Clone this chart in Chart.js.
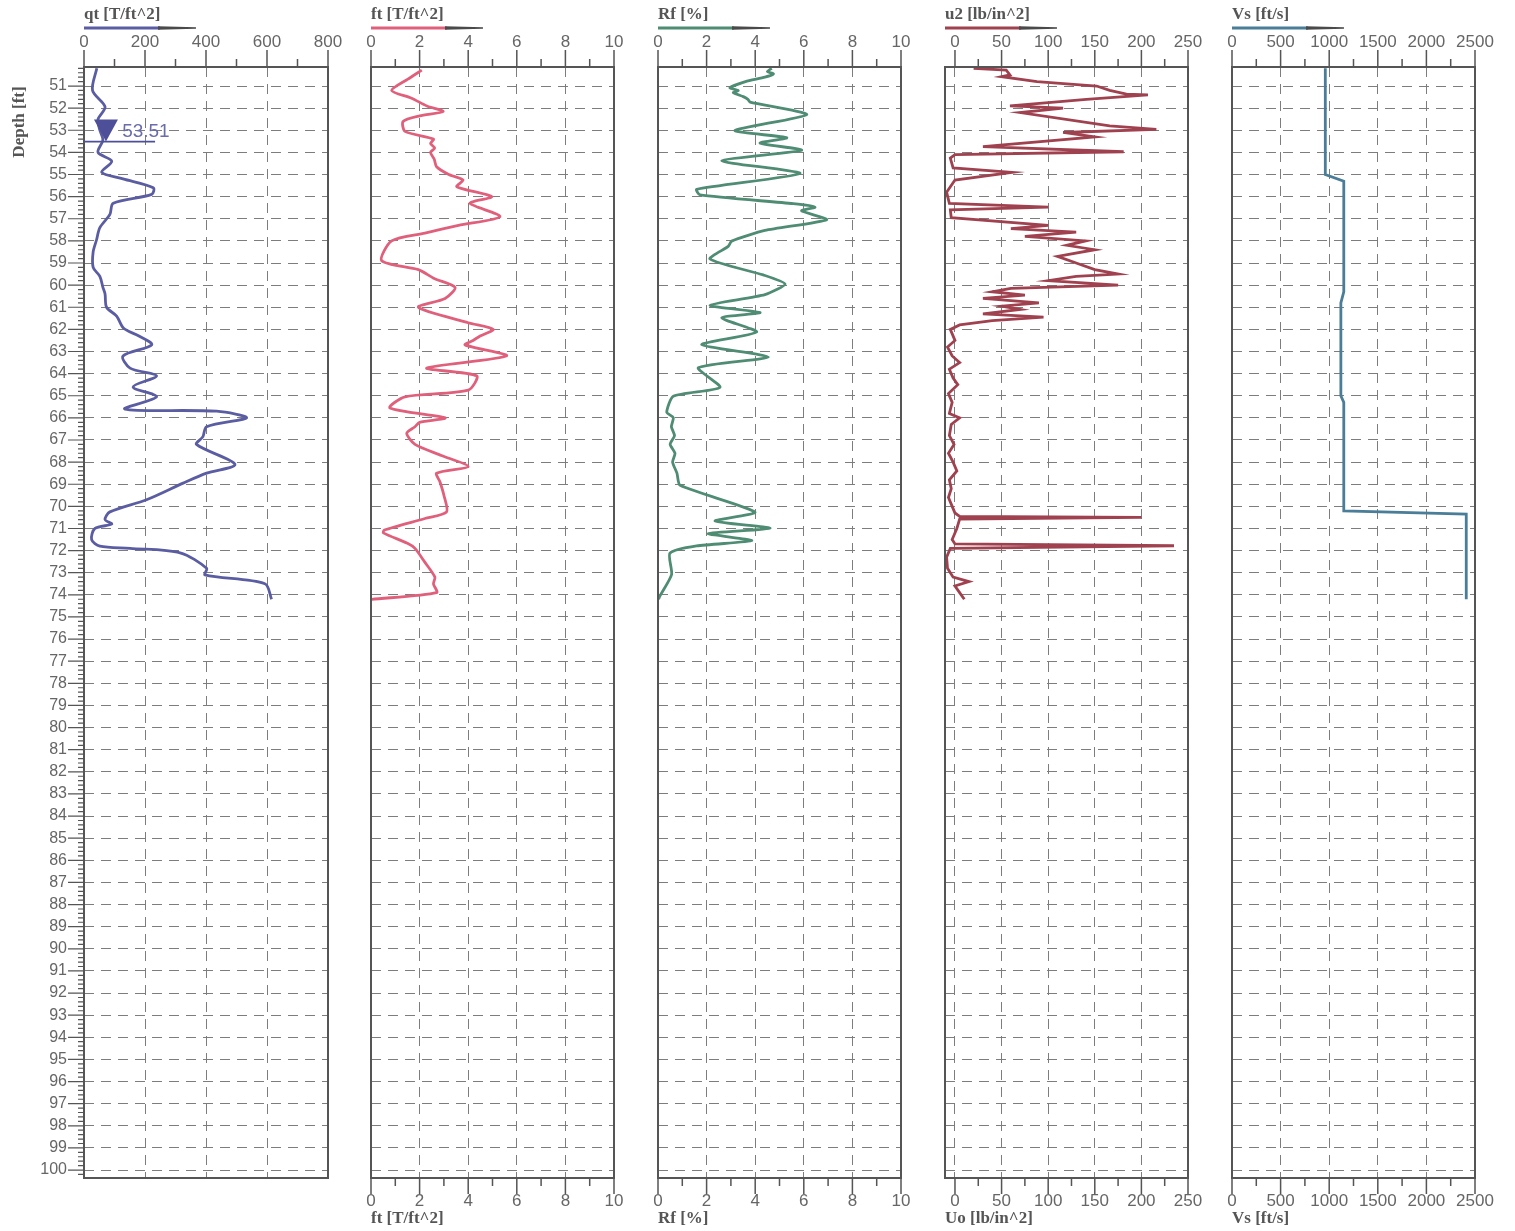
<!DOCTYPE html>
<html><head><meta charset="utf-8">
<script src="https://cdn.jsdelivr.net/npm/chart.js@4.4.1/dist/chart.umd.min.js"></script>
<style>
html,body{margin:0;padding:0;background:#fff;}
#wrap{position:relative;width:1515px;height:1231px;overflow:hidden;}
#wrap canvas{position:absolute;left:0;top:0;}
</style></head><body><div id="wrap"></div>
<script>
// ---------- data ----------
const depthMin = 50.14, depthMax = 100.36;
const depthTicks = [];
for (let d = 51; d <= 100; d++) depthTicks.push(d);
const depthLabels = depthTicks.map(String);
const waterDepth = 53.51;
const waterLabel = '53.51';

const qtDepth  = [50.2,51.2,51.94,52.5,53.0,53.44,54.0,54.4,54.9,55.2,55.6,55.9,56.3,56.8,57.4,57.96,58.5,59.2,59.6,60.1,60.4,61.0,61.4,61.95,62.3,62.7,63.2,63.75,64.1,64.6,65.05,65.6,65.7,66.0,66.4,66.85,67.2,68.1,68.5,68.95,69.7,70.25,70.6,70.8,71.0,71.5,71.8,71.9,72.1,72.8,73.1,73.5,74.2];
const qtValues = [42,28,69,46,52,62,46,91,58,128,227,222,96,85,52,41,30,30,52,62,69,74,107,130,180,222,128,151,238,161,238,134,435,533,402,390,369,495,402,325,205,85,69,91,36,25,52,151,315,402,397,593,615];

const ftDepth  = [50.28,50.7,51.2,51.55,51.9,52.15,52.35,52.6,53.05,53.4,53.6,53.8,54.0,54.3,54.65,55.0,55.25,55.55,56.0,56.3,56.9,57.3,57.65,58.0,58.9,59.3,59.7,60.1,60.6,61.0,61.7,62.0,62.3,62.5,62.7,63.2,63.75,64.1,64.75,65.05,65.55,66.0,66.2,66.4,66.7,67.2,67.7,68.2,68.5,68.9,69.5,70.25,70.55,71.07,71.2,71.67,71.9,72.5,73.2,73.5,73.9,74.2];
const ftValues = [2.09,1.5,0.85,1.67,2.3,2.97,2.0,1.32,1.40,2.57,2.45,2.62,2.45,2.6,2.70,3.2,3.79,3.53,4.97,4.07,5.31,3.6,2.22,0.85,0.44,1.95,2.6,3.46,3.05,1.95,4.0,5.03,4.49,4.2,3.87,5.58,2.29,4.35,4.0,1.40,0.78,3.05,2.0,1.81,1.47,1.81,2.9,4.0,2.70,2.84,3.0,3.11,2.22,0.55,0.51,1.5,1.81,2.2,2.63,2.57,2.70,0.03];

const rfDepth  = [50.2,50.35,50.45,50.6,50.8,51.08,51.2,51.3,51.48,51.6,51.73,52.29,53.01,53.34,53.58,53.9,54.38,54.95,55.67,55.92,56.32,56.48,56.64,57.04,57.53,58.01,58.25,58.82,59.54,59.95,60.43,60.91,61.24,61.48,62.12,62.69,63.25,63.73,64.62,65.02,65.75,65.99,66.4,66.8,67.2,67.6,68.0,68.5,69.05,70.26,70.66,70.99,71.23,71.55,71.79,72.12,73.08,74.05,74.2];
const rfValues = [4.68,4.5,4.75,4.40,3.6,2.96,3.3,3.1,3.51,3.7,3.79,6.12,3.17,5.30,4.20,5.91,2.62,5.84,1.59,1.73,5.57,6.46,5.91,6.94,4.40,3.03,2.89,2.14,4.33,5.23,4.40,2.14,4.20,2.62,4.06,1.80,4.54,1.66,2.55,0.63,0.36,0.63,0.55,0.68,0.5,0.70,0.6,0.78,0.91,3.99,2.35,4.61,2.07,3.86,1.59,0.49,0.56,0.08,0.02];

const u2Depth  = [50.2,50.28,50.5,50.58,50.8,51.0,51.2,51.37,51.4,51.6,51.9,52.0,52.2,52.8,52.96,53.1,53.3,53.74,53.97,54.1,54.26,54.7,54.9,55.25,55.8,56.3,56.47,56.6,56.95,57.3,57.45,57.6,57.8,58.0,58.2,58.4,58.7,59.0,59.3,59.5,59.6,59.8,60.0,60.15,60.3,60.45,60.6,60.8,60.95,61.1,61.3,61.45,61.6,61.8,62.0,62.5,62.8,63.2,63.5,63.8,64.2,64.5,64.9,65.3,65.8,66.0,66.3,66.8,67.2,67.6,68.0,68.4,68.8,69.2,69.6,70.0,70.3,70.45,70.5,70.58,71.0,71.5,71.7,71.78,71.9,72.3,72.8,73.2,73.4,73.6,73.9,74.2];
const u2Values = [20,55,59,50,88,152,166,184,207,141,59,116,70,166,216,116,150,30,181,0,-5,-2,61,0,-9,-6,100,-5,-4,100,60,130,75,140,120,150,110,130,150,175,130,100,175,60,40,75,30,90,50,70,30,95,40,5,-5,0,-8,-3,5,-6,-2,3,-7,-3,-6,5,-4,-6,-1,-7,-2,2,-6,-4,-7,-3,0,5,200,5,2,-3,0,235,-5,-9,-8,-2,15,0,5,10];

const vsDepth  = [50.2,55.0,55.3,60.3,60.8,65.0,65.3,70.2,70.35,74.2];
const vsValues = [960,960,1150,1150,1120,1120,1150,1150,2410,2410];

const qtTicks = [0,200,400,600,800],    qtMinor = [100,300,500,700];
const ftTicks = [0,2,4,6,8,10],         ftMinor = [1,3,5,7,9];
const rfTicks = [0,2,4,6,8,10],         rfMinor = [1,3,5,7,9];
const u2Ticks = [0,50,100,150,200,250], u2Minor = [25,75,125,175,225];
const vsTicks = [0,500,1000,1500,2000,2500], vsMinor = [250,750,1250,1750,2250];

const topTitles    = ['qt [T/ft^2]','ft [T/ft^2]','Rf [%]','u2 [lb/in^2]','Vs [ft/s]'];
const bottomTitles = [null,'ft [T/ft^2]','Rf [%]','Uo [lb/in^2]','Vs [ft/s]'];
const depthTitle = 'Depth [ft]';

// ---------- layout / style ----------
const W = 1515, H = 1231, TOP = 67, BOTTOM = 1178;
const panels = [
  {left:84,  right:328,  min:0,     max:800,  ticks:qtTicks, minor:qtMinor, d:qtDepth, v:qtValues, color:'#5b5da3', tension:0.3, depthAxis:true,  water:true},
  {left:371, right:614,  min:0,     max:10,   ticks:ftTicks, minor:ftMinor, d:ftDepth, v:ftValues, color:'#e0607c', tension:0.25},
  {left:658, right:901,  min:0,     max:10,   ticks:rfTicks, minor:rfMinor, d:rfDepth, v:rfValues, color:'#4f8c74', tension:0.2},
  {left:945, right:1188, min:-10.7, max:250,  ticks:u2Ticks, minor:u2Minor, d:u2Depth, v:u2Values, color:'#a0414f', tension:0},
  {left:1232,right:1475, min:0,     max:2500, ticks:vsTicks, minor:vsMinor, d:vsDepth, v:vsValues, color:'#4a7d98', tension:0}
];
const LABEL_FONT = '17px "Liberation Sans", Arial, sans-serif';
const TITLE_FONT = 'bold 17px "Liberation Serif", "Times New Roman", serif';
const AXIS_COLOR = '#555';
const LABEL_COLOR = '#666';

const axesPlugin = {
  id: 'logAxes',
  afterDraw(chart, args, o) {
    const ctx = chart.ctx, a = chart.chartArea, xs = chart.scales.x, ys = chart.scales.y;
    ctx.save();
    ctx.strokeStyle = AXIS_COLOR; ctx.lineWidth = 2;
    ctx.strokeRect(a.left, a.top, a.right - a.left, a.bottom - a.top);
    ctx.lineWidth = 1.5;
    ctx.beginPath();
    o.ticks.forEach(v => { const x = xs.getPixelForValue(v); ctx.moveTo(x, a.top - 17); ctx.lineTo(x, a.top); });
    o.minor.forEach(v => { const x = xs.getPixelForValue(v); ctx.moveTo(x, a.top - 8); ctx.lineTo(x, a.top); });
    ctx.stroke();
    ctx.fillStyle = LABEL_COLOR; ctx.font = LABEL_FONT; ctx.textAlign = 'center'; ctx.textBaseline = 'middle';
    o.ticks.forEach(v => ctx.fillText(String(v), xs.getPixelForValue(v), 42));
    ctx.font = TITLE_FONT; ctx.fillStyle = AXIS_COLOR; ctx.textAlign = 'left'; ctx.textBaseline = 'middle';
    ctx.fillText(o.topTitle, a.left, 15);
    ctx.strokeStyle = o.color; ctx.lineWidth = 3;
    ctx.beginPath(); ctx.moveTo(a.left, 28); ctx.lineTo(a.left + 76, 28); ctx.stroke();
    ctx.fillStyle = '#4a4a4a';
    ctx.beginPath(); ctx.moveTo(a.left + 74, 26.3); ctx.lineTo(a.left + 112, 27.3); ctx.lineTo(a.left + 112, 28.7); ctx.lineTo(a.left + 74, 29.7); ctx.closePath(); ctx.fill();
    if (o.bottomTitle) {
      ctx.strokeStyle = AXIS_COLOR; ctx.lineWidth = 1.5;
      ctx.beginPath();
      o.ticks.forEach(v => { const x = xs.getPixelForValue(v); ctx.moveTo(x, a.bottom); ctx.lineTo(x, a.bottom + 16); });
      o.minor.forEach(v => { const x = xs.getPixelForValue(v); ctx.moveTo(x, a.bottom); ctx.lineTo(x, a.bottom + 8); });
      ctx.stroke();
      ctx.fillStyle = LABEL_COLOR; ctx.font = LABEL_FONT; ctx.textAlign = 'center'; ctx.textBaseline = 'middle';
      o.ticks.forEach(v => ctx.fillText(String(v), xs.getPixelForValue(v), 1201));
      ctx.font = TITLE_FONT; ctx.fillStyle = AXIS_COLOR; ctx.textAlign = 'left';
      ctx.fillText(o.bottomTitle, a.left, 1219);
    }
    if (o.depthAxis) {
      ctx.strokeStyle = AXIS_COLOR; ctx.lineWidth = 1.2;
      ctx.beginPath();
      for (let d = 50.2; d < depthMax; d += 0.2) {
        const dd = Math.round(d * 10) / 10;
        const y = ys.getPixelForValue(dd);
        const major = Math.abs(dd - Math.round(dd)) < 1e-6;
        ctx.moveTo(a.left - (major ? 16 : 6), y); ctx.lineTo(a.left, y);
      }
      ctx.stroke();
      ctx.fillStyle = LABEL_COLOR; ctx.font = '16px "Liberation Sans", Arial, sans-serif';
      ctx.textAlign = 'right'; ctx.textBaseline = 'middle';
      depthTicks.forEach((d, i) => ctx.fillText(depthLabels[i], a.left - 17, ys.getPixelForValue(d)));
      ctx.save();
      ctx.translate(20, 122); ctx.rotate(-Math.PI / 2);
      ctx.font = TITLE_FONT; ctx.fillStyle = AXIS_COLOR; ctx.textAlign = 'center'; ctx.textBaseline = 'middle';
      ctx.fillText(depthTitle, 0, 0);
      ctx.restore();
    }
    if (o.water) {
      const y = ys.getPixelForValue(waterDepth);
      ctx.strokeStyle = '#4d4f98'; ctx.lineWidth = 1.8;
      ctx.beginPath(); ctx.moveTo(a.left, y); ctx.lineTo(xs.getPixelForValue(233), y); ctx.stroke();
      const cx = xs.getPixelForValue(72);
      ctx.fillStyle = '#4d4f98';
      ctx.beginPath(); ctx.moveTo(cx - 12, y - 22); ctx.lineTo(cx + 12, y - 22); ctx.lineTo(cx, y); ctx.closePath(); ctx.fill();
      ctx.fillStyle = '#6a6cab'; ctx.font = '19px "Liberation Sans", Arial, sans-serif';
      ctx.textAlign = 'left'; ctx.textBaseline = 'middle';
      ctx.fillText(waterLabel, xs.getPixelForValue(125), y - 10);
    }
    ctx.restore();
  }
};

const wrap = document.getElementById('wrap');
panels.forEach((p, i) => {
  const c = document.createElement('canvas');
  c.width = W; c.height = H; c.style.width = W + 'px'; c.style.height = H + 'px';
  wrap.appendChild(c);
  const pts = p.d.map((d, k) => ({x: p.v[k], y: d}));
  new Chart(c, {
    type: 'line',
    data: { datasets: [{ data: pts, borderColor: p.color, borderWidth: 2.8, pointRadius: 0, fill: false, tension: p.tension }] },
    plugins: [axesPlugin],
    options: {
      responsive: false, animation: false, devicePixelRatio: 1, indexAxis: 'y',
      layout: { padding: { left: p.left, right: W - p.right, top: TOP, bottom: H - BOTTOM } },
      plugins: {
        legend: { display: false }, tooltip: { enabled: false },
        logAxes: { ticks: p.ticks, minor: p.minor, color: p.color, topTitle: topTitles[i], bottomTitle: bottomTitles[i], depthAxis: !!p.depthAxis, water: !!p.water }
      },
      scales: {
        x: { type: 'linear', min: p.min, max: p.max,
             afterBuildTicks: s => { s.ticks = p.ticks.map(v => ({value: v})); },
             afterFit: s => { s.height = 0; },
             ticks: { display: false }, grid: { color: '#7d7d7d', lineWidth: 1, drawTicks: false },
             border: { display: false, dash: [10, 7] } },
        y: { type: 'linear', reverse: true, min: depthMin, max: depthMax,
             afterBuildTicks: s => { s.ticks = depthTicks.map(v => ({value: v})); },
             afterFit: s => { s.width = 0; },
             ticks: { display: false }, grid: { color: '#7d7d7d', lineWidth: 1, drawTicks: false },
             border: { display: false, dash: [10, 7] } }
      }
    }
  });
});
</script></body></html>
